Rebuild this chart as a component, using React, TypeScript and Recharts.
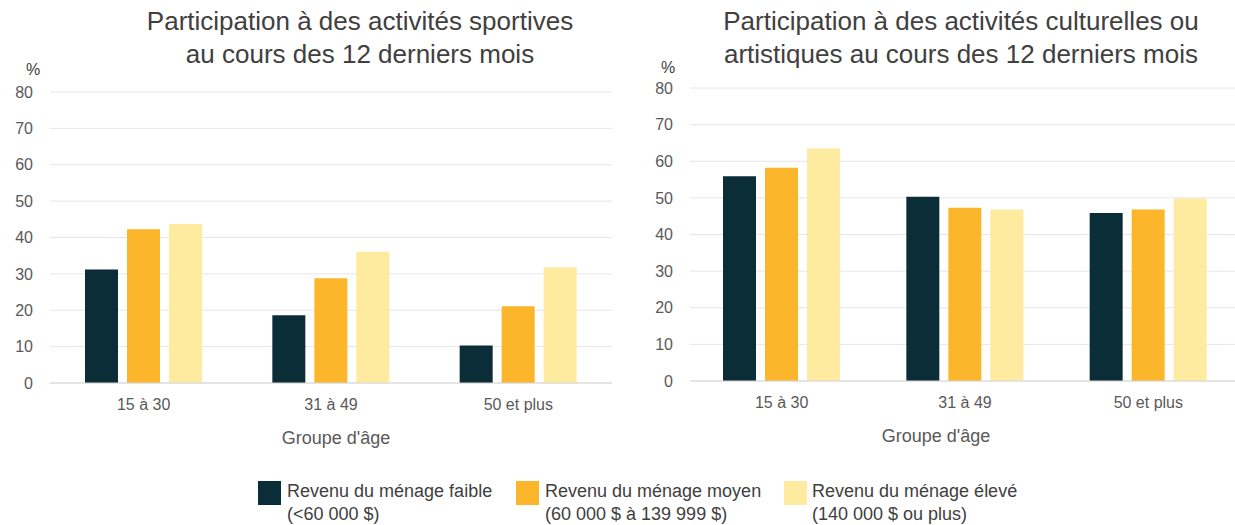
import React from "react";
import { BarChart, Bar, XAxis, YAxis, CartesianGrid } from "recharts";

const categories = ["15 à 30", "31 à 49", "50 et plus"];
const sportFaible = [31.2, 18.6, 10.3];
const sportMoyen = [42.3, 28.8, 21.1];
const sportEleve = [43.7, 36.1, 31.8];
const cultFaible = [55.9, 50.3, 45.9];
const cultMoyen = [58.2, 47.3, 46.8];
const cultEleve = [63.5, 46.8, 49.8];
const yTicks = [0, 10, 20, 30, 40, 50, 60, 70, 80];
const seriesNames = [
  ["Revenu du ménage faible", "(<60 000 $)"],
  ["Revenu du ménage moyen", "(60 000 $ à 139 999 $)"],
  ["Revenu du ménage élevé", "(140 000 $ ou plus)"],
];
const colors = ["#0b2d37", "#fbb62b", "#feeba0"];

const sportData = categories.map((c, i) => ({
  cat: c,
  faible: sportFaible[i],
  moyen: sportMoyen[i],
  eleve: sportEleve[i],
}));
const cultData = categories.map((c, i) => ({
  cat: c,
  faible: cultFaible[i],
  moyen: cultMoyen[i],
  eleve: cultEleve[i],
}));

const FONT = "'Liberation Sans', Arial, Helvetica, sans-serif";
const tickStyle = { fontSize: 16, fill: "#595959", fontFamily: FONT };

function Chart({ data, margin }: { data: any[]; margin: any }) {
  return (
    <BarChart width={620} height={430} data={data} margin={margin} barSize={33} barGap={9}>
      <CartesianGrid vertical={false} stroke="#e6e6e6" />
      <XAxis
        dataKey="cat"
        tickLine={false}
        axisLine={{ stroke: "#d6d6d6" }}
        tick={tickStyle}
        tickMargin={10}
        height={30}
      />
      <YAxis
        domain={[0, 80]}
        ticks={yTicks}
        tickLine={false}
        axisLine={false}
        tick={tickStyle}
        tickMargin={11}
        width={40}
        interval={0}
      />
      <Bar dataKey="faible" fill={colors[0]} isAnimationActive={false} />
      <Bar dataKey="moyen" fill={colors[1]} isAnimationActive={false} />
      <Bar dataKey="eleve" fill={colors[2]} isAnimationActive={false} />
    </BarChart>
  );
}

const abs = (s: any): any => ({ position: "absolute", ...s });

export default function App() {
  return (
    <div
      style={{
        position: "absolute",
        top: 0,
        left: 0,
        width: 1235,
        height: 525,
        overflow: "hidden",
        background: "#fff",
        fontFamily: FONT,
      }}
    >
      <div style={abs({ left: 0, top: 0 })}>
        <Chart data={sportData} margin={{ top: 92, right: 8, left: 10, bottom: 17 }} />
      </div>
      <div style={abs({ left: 620, top: 0 })}>
        <Chart data={cultData} margin={{ top: 88, right: 0, left: 30, bottom: 19 }} />
      </div>

      <div
        style={abs({
          left: 60,
          top: 5,
          width: 600,
          textAlign: "center",
          fontSize: 26,
          lineHeight: "33px",
          color: "#404040",
        })}
      >
        Participation à des activités sportives
        <br />
        au cours des 12 derniers mois
      </div>
      <div
        style={abs({
          left: 661,
          top: 5,
          width: 600,
          textAlign: "center",
          fontSize: 26,
          lineHeight: "33px",
          color: "#404040",
        })}
      >
        Participation à des activités culturelles ou
        <br />
        artistiques au cours des 12 derniers mois
      </div>

      <div style={abs({ left: 13, top: 60, width: 40, textAlign: "center", fontSize: 16, lineHeight: "20px", color: "#404040" })}>%</div>
      <div style={abs({ left: 648, top: 58, width: 40, textAlign: "center", fontSize: 16, lineHeight: "20px", color: "#404040" })}>%</div>

      <div style={abs({ left: 236, top: 427, width: 200, textAlign: "center", fontSize: 18, lineHeight: "22px", color: "#595959" })}>
        Groupe d'âge
      </div>
      <div style={abs({ left: 836, top: 425, width: 200, textAlign: "center", fontSize: 18, lineHeight: "22px", color: "#595959" })}>
        Groupe d'âge
      </div>

      {[
        { sq: 258, tx: 287 },
        { sq: 516, tx: 545 },
        { sq: 784, tx: 812 },
      ].map((p, i) => (
        <React.Fragment key={i}>
          <div style={abs({ left: p.sq, top: 481, width: 23, height: 24, background: colors[i] })} />
          <div style={abs({ left: p.tx, top: 480, fontSize: 18, lineHeight: "23px", color: "#404040", whiteSpace: "nowrap" })}>
            {seriesNames[i][0]}
            <br />
            {seriesNames[i][1]}
          </div>
        </React.Fragment>
      ))}
    </div>
  );
}
